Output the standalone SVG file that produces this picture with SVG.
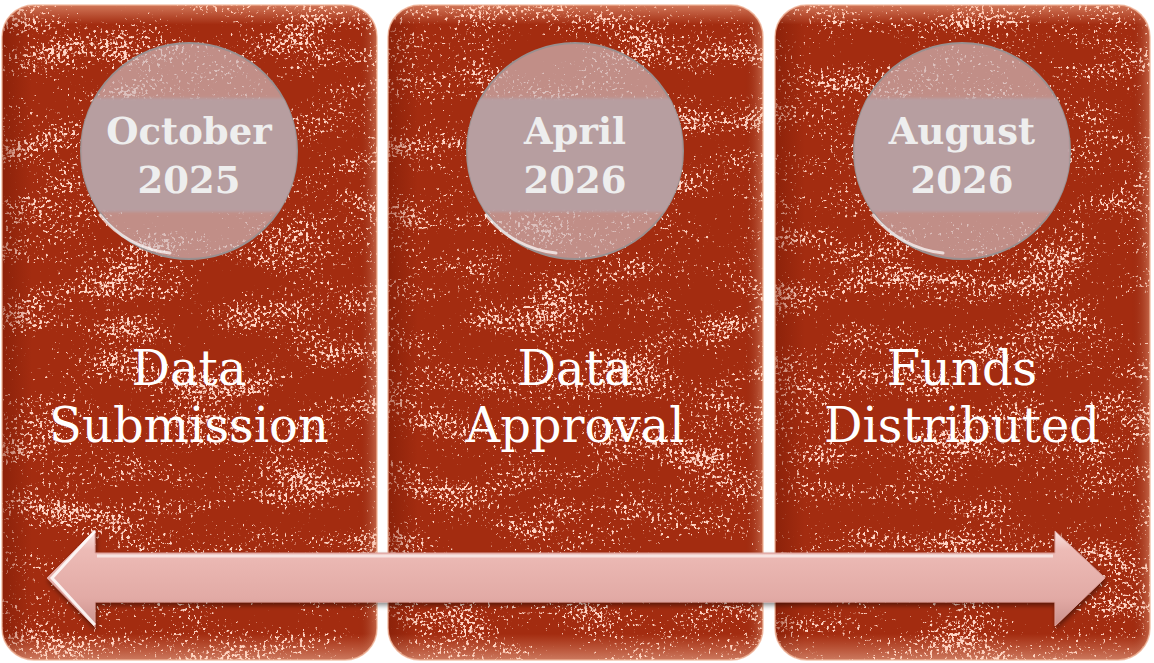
<svg xmlns="http://www.w3.org/2000/svg" width="1154" height="663" viewBox="0 0 1154 663">
<style>
.panel{fill:#a32c10}
.rim{fill:none;stroke:#f0b59a;stroke-width:1.5;stroke-opacity:0.8}
.date{font-family:"DejaVu Serif",serif;font-weight:bold;font-size:37px;fill:#eeeeee;text-anchor:middle}
.label{font-family:"DejaVu Serif",serif;font-size:48px;fill:#ffffff;text-anchor:middle}
.disc{fill:#cdb8ba;fill-opacity:0.7;stroke:#9a9090;stroke-width:2}
.band{fill:#b79ea0}
.gloss{fill:none;stroke:#ffffff;stroke-width:3;stroke-opacity:0.7;stroke-linecap:round}
</style>
<defs>
<filter id="grunge" x="0" y="0" width="1" height="1" color-interpolation-filters="sRGB">
<feTurbulence type="fractalNoise" baseFrequency="0.33" numOctaves="2" seed="4" result="fine"/>
<feColorMatrix in="fine" type="matrix" values="1 0 0 0 0  1 0 0 0 0  1 0 0 0 0  0 0 0 0 1" result="f1"/>
<feTurbulence type="fractalNoise" baseFrequency="0.012 0.03" numOctaves="2" seed="11" result="coarse"/>
<feColorMatrix in="coarse" type="matrix" values="1 0 0 0 0  1 0 0 0 0  1 0 0 0 0  0 0 0 0 1" result="c1"/>
<feComposite in="f1" in2="c1" operator="arithmetic" k1="0" k2="1" k3="0.6" k4="-0.3" result="mix"/>
<feColorMatrix in="mix" type="matrix" values="0 0 0 0 1  0 0 0 0 0.84  0 0 0 0 0.78  9 0 0 0 -5.75" result="specks"/>
</filter>
<linearGradient id="panelShade" x1="0" y1="0" x2="1" y2="0">
<stop offset="0" stop-color="#7a1a05" stop-opacity="0.55"/>
<stop offset="0.08" stop-color="#7a1a05" stop-opacity="0"/>
<stop offset="0.95" stop-color="#7a1a05" stop-opacity="0"/>
<stop offset="1" stop-color="#ffd0b0" stop-opacity="0.35"/>
</linearGradient>
<linearGradient id="panelTop" x1="0" y1="0" x2="0" y2="1">
<stop offset="0" stop-color="#ffc0a0" stop-opacity="0.5"/>
<stop offset="0.03" stop-color="#ffc0a0" stop-opacity="0"/>
<stop offset="0.96" stop-color="#ffc0a0" stop-opacity="0"/>
<stop offset="1" stop-color="#ffd8c0" stop-opacity="0.45"/>
</linearGradient>
<linearGradient id="arrowFill" x1="0" y1="0" x2="0" y2="1">
<stop offset="0" stop-color="#fbe6e2"/>
<stop offset="0.2" stop-color="#edbbb6"/>
<stop offset="0.7" stop-color="#e2aaa5"/>
<stop offset="1" stop-color="#c98f8a"/>
</linearGradient>
<filter id="soft" x="-0.05" y="-0.2" width="1.1" height="1.4"><feGaussianBlur stdDeviation="1.5"/></filter>
<filter id="shadow" x="-0.05" y="-0.3" width="1.1" height="1.6">
<feGaussianBlur in="SourceAlpha" stdDeviation="2.5"/>
<feOffset dx="1" dy="3" result="b"/>
<feComponentTransfer in="b" result="s"><feFuncA type="linear" slope="0.45"/></feComponentTransfer>
<feMerge><feMergeNode in="s"/><feMergeNode in="SourceGraphic"/></feMerge>
</filter>
<clipPath id="clip1"><rect x="2" y="5" width="375" height="655" rx="32"/></clipPath>
<clipPath id="clip2"><rect x="388" y="5" width="375" height="655" rx="32"/></clipPath>
<clipPath id="clip3"><rect x="775" y="5" width="375" height="655" rx="32"/></clipPath>
<clipPath id="disc1"><circle cx="189" cy="151" r="108"/></clipPath>
<clipPath id="disc2"><circle cx="575" cy="151" r="108"/></clipPath>
<clipPath id="disc3"><circle cx="962" cy="151" r="108"/></clipPath>
</defs>
<rect width="1154" height="663" fill="#ffffff"/>

<g id="panel-october-2025">
<rect class="panel" x="2" y="5" width="375" height="655" rx="32"/>
<g clip-path="url(#clip1)"><rect x="2" y="5" width="375" height="655" filter="url(#grunge)"/></g>
<rect x="2" y="5" width="375" height="655" rx="32" fill="url(#panelShade)"/>
<rect x="2" y="5" width="375" height="655" rx="32" fill="url(#panelTop)"/>
<rect class="rim" x="2" y="5" width="375" height="655" rx="32"/>
<circle class="disc" cx="189" cy="151" r="108"/>
<g clip-path="url(#disc1)"><rect class="band" x="81" y="98" width="216" height="114" filter="url(#soft)"/></g>
<path class="gloss" d="M 100 215 A 104 104 0 0 0 170 253"/>
<text class="date" x="189" y="144">October</text>
<text class="date" x="189" y="193">2025</text>
<text class="label" x="189" y="385">Data</text>
<text class="label" x="189" y="442">Submission</text>
</g>

<g id="panel-april-2026">
<rect class="panel" x="388" y="5" width="375" height="655" rx="32"/>
<g clip-path="url(#clip2)"><rect x="388" y="5" width="375" height="655" filter="url(#grunge)"/></g>
<rect x="388" y="5" width="375" height="655" rx="32" fill="url(#panelShade)"/>
<rect x="388" y="5" width="375" height="655" rx="32" fill="url(#panelTop)"/>
<rect class="rim" x="388" y="5" width="375" height="655" rx="32"/>
<circle class="disc" cx="575" cy="151" r="108"/>
<g clip-path="url(#disc2)"><rect class="band" x="467" y="98" width="216" height="114" filter="url(#soft)"/></g>
<path class="gloss" d="M 486 215 A 104 104 0 0 0 556 253"/>
<text class="date" x="575" y="144">April</text>
<text class="date" x="575" y="193">2026</text>
<text class="label" x="575" y="385">Data</text>
<text class="label" x="575" y="442">Approval</text>
</g>

<g id="panel-august-2026">
<rect class="panel" x="775" y="5" width="375" height="655" rx="32"/>
<g clip-path="url(#clip3)"><rect x="775" y="5" width="375" height="655" filter="url(#grunge)"/></g>
<rect x="775" y="5" width="375" height="655" rx="32" fill="url(#panelShade)"/>
<rect x="775" y="5" width="375" height="655" rx="32" fill="url(#panelTop)"/>
<rect class="rim" x="775" y="5" width="375" height="655" rx="32"/>
<circle class="disc" cx="962" cy="151" r="108"/>
<g clip-path="url(#disc3)"><rect class="band" x="854" y="98" width="216" height="114" filter="url(#soft)"/></g>
<path class="gloss" d="M 873 215 A 104 104 0 0 0 943 253"/>
<text class="date" x="962" y="144">August</text>
<text class="date" x="962" y="193">2026</text>
<text class="label" x="962" y="385">Funds</text>
<text class="label" x="962" y="442">Distributed</text>
</g>

<g id="connectors">
<polygon points="47,578 95,530 95,553 1055,553 1055,531 1105,578 1055,626 1055,602 95,602 95,627" fill="url(#arrowFill)" stroke="#d9a09b" stroke-width="1" filter="url(#shadow)"/>
<polyline points="95,531 52,578 95,625" fill="none" stroke="#ffffff" stroke-width="3" stroke-opacity="0.85"/>
<line x1="97" y1="556" x2="1053" y2="556" stroke="#ffffff" stroke-width="3" stroke-opacity="0.6"/>
</g>
</svg>
